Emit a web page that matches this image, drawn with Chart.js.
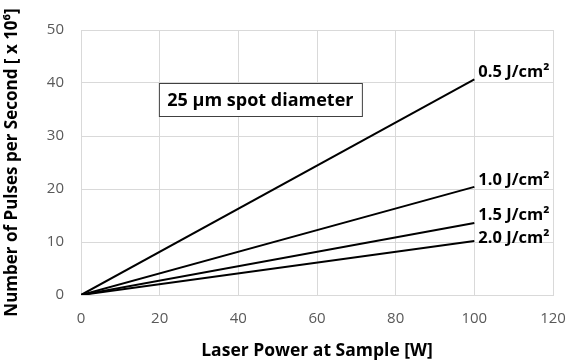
<!DOCTYPE html>
<html lang="en">
<head>
    <meta charset="UTF-8">
    <title>Pulses per Second vs Laser Power</title>
    <script src="https://cdn.jsdelivr.net/npm/chart.js"></script>
    <style>
        html, body { margin: 0; padding: 0; background: #fff; }
        #wrap { width: 568px; height: 362px; position: relative; }
    </style>
</head>
<body>
    <div id="wrap"><canvas id="pulseChart"></canvas></div>

    <script>
        // laser power [W] at the two end points of each line
        const power = [0, 100];
        // pulses per second [x 10^6] for each fluence
        const fluence05 = [0, 40.7];
        const fluence10 = [0, 20.4];
        const fluence15 = [0, 13.6];
        const fluence20 = [0, 10.2];
        const seriesLabels = ['0.5 J/cm²', '1.0 J/cm²', '1.5 J/cm²', '2.0 J/cm²'];
        const xTicks = [0, 20, 40, 60, 80, 100, 120];
        const yTicks = [0, 10, 20, 30, 40, 50];
        const noteText = '25 µm spot diameter';

        const FONT = "'Open Sans', 'Liberation Sans', sans-serif";
        // vertical nudge of each end label relative to the line end (px)
        const labelNudge = [-7, -7, -8, -3];

        const allSeries = [fluence05, fluence10, fluence15, fluence20];
        const datasets = allSeries.map((vals, i) => ({
            label: seriesLabels[i],
            data: power.map((p, j) => ({ x: p, y: vals[j] })),
            borderColor: '#000',
            borderWidth: 2,
            pointRadius: 0,
            fill: false
        }));

        // end labels and the note box
        const annotations = {
            id: 'annotations',
            afterDatasetsDraw(chart) {
                const ctx = chart.ctx;
                const xs = chart.scales.x, ys = chart.scales.y;
                ctx.save();
                ctx.font = "bold 16.5px " + FONT;
                ctx.fillStyle = '#000';
                ctx.textAlign = 'left';
                ctx.textBaseline = 'middle';
                allSeries.forEach((vals, i) => {
                    const last = vals.length - 1;
                    const px = xs.getPixelForValue(power[last]);
                    const py = ys.getPixelForValue(vals[last]);
                    ctx.fillText(seriesLabels[i], px + 4, py + labelNudge[i]);
                });

                // note box
                const bx = xs.getPixelForValue(19.8);
                const by = ys.getPixelForValue(40);
                ctx.font = "bold 18px " + FONT;
                const w = 203, h = 33;
                ctx.fillStyle = '#fff';
                ctx.fillRect(bx, by, w, h);
                ctx.strokeStyle = '#404040';
                ctx.lineWidth = 1;
                ctx.strokeRect(bx + 0.5, by + 0.5, w, h);
                ctx.fillStyle = '#000';
                ctx.textAlign = 'center';
                ctx.fillText(noteText, bx + w / 2, by + h / 2 + 1);
                ctx.restore();
            }
        };

        new Chart(document.getElementById('pulseChart'), {
            type: 'line',
            data: { datasets: datasets },
            options: {
                responsive: true,
                maintainAspectRatio: false,
                animation: false,
                layout: { padding: { left: 0, right: 15, top: 30, bottom: 0 } },
                plugins: { legend: { display: false }, tooltip: { enabled: false } },
                scales: {
                    x: {
                        type: 'linear',
                        min: 0, max: 120,
                        afterBuildTicks: s => { s.ticks = xTicks.map(v => ({ value: v })); },
                        afterFit: s => { s.height = 67; s.paddingLeft = 0; s.paddingRight = 0; },
                        grid: { color: '#d9d9d9', drawTicks: false },
                        border: { color: '#d9d9d9' },
                        ticks: { color: '#595959', padding: 15, font: { family: FONT, size: 15 } },
                        title: {
                            display: true,
                            text: 'Laser Power at Sample [W]',
                            color: '#000',
                            font: { family: FONT, size: 17.5, weight: 'bold' },
                            padding: { top: 6, bottom: 0 }
                        }
                    },
                    y: {
                        min: 0, max: 50,
                        afterBuildTicks: s => { s.ticks = yTicks.map(v => ({ value: v })); },
                        afterFit: s => { s.width = 81; },
                        grid: { color: '#d9d9d9', drawTicks: false },
                        border: { color: '#d9d9d9' },
                        ticks: { color: '#595959', padding: 17, font: { family: FONT, size: 15 } },
                        title: {
                            display: true,
                            text: 'Number of Pulses per Second [ x 10⁶]',
                            color: '#000',
                            font: { family: FONT, size: 17, weight: 'bold' },
                            padding: { top: 2, bottom: 2 }
                        }
                    }
                }
            },
            plugins: [annotations]
        });
    </script>
</body>
</html>
